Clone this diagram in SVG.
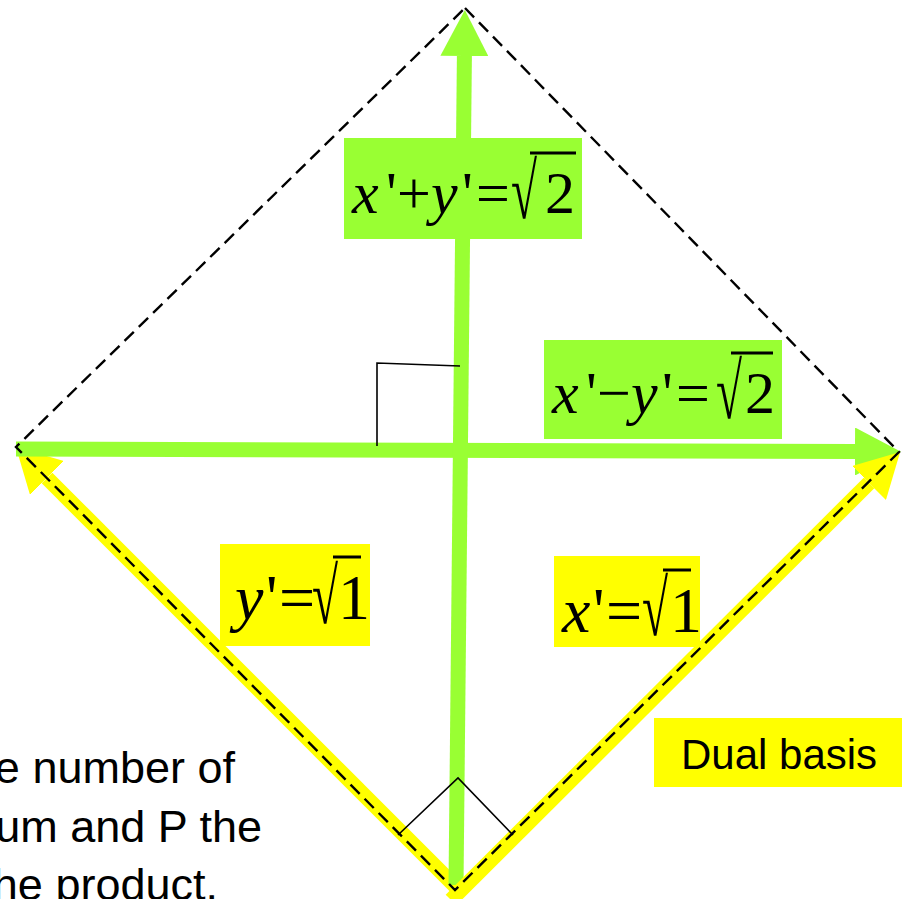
<svg xmlns="http://www.w3.org/2000/svg" width="902" height="899" viewBox="0 0 902 899">
<style>
.g{stroke:#99FF33;stroke-width:15;fill:none}
.y{stroke:#FFFF00;stroke-width:15;fill:none}
.dash{stroke:#000;stroke-width:2.4;fill:none;stroke-dasharray:13 7}
.ra{stroke:#000;stroke-width:1.6;fill:none}
.gb{fill:#99FF33}
.yb{fill:#FFFF00}
.m{font-family:"Liberation Serif","Times New Roman",serif;fill:#000}
.i{font-style:italic}
.r{font-family:"Liberation Serif","Times New Roman",serif;fill:#000;font-size:79px}
.s{font-family:"Liberation Sans",Arial,sans-serif;fill:#000}
.bar{stroke:#000;stroke-width:3}
</style>
<defs>
<marker id="ag" markerUnits="userSpaceOnUse" markerWidth="46" markerHeight="48" refX="0" refY="24" orient="auto" viewBox="0 0 46 48"><path d="M0,0 L46,24 L0,48 z" fill="#99FF33"/></marker>
<marker id="ay" markerUnits="userSpaceOnUse" markerWidth="44" markerHeight="48" refX="0" refY="24" orient="auto" viewBox="0 0 44 48"><path d="M0,0 L44,24 L0,48 z" fill="#FFFF00"/></marker>
</defs>
<g id="connectors">
<line class="y" x1="457" y1="888" x2="47" y2="478" marker-end="url(#ay)"/>
<line class="g" x1="16" y1="449" x2="855" y2="451.5" marker-end="url(#ag)"/>
<line class="g" x1="456" y1="885" x2="464.4" y2="56" marker-end="url(#ag)"/>
<line class="y" x1="451" y1="900" x2="869" y2="483" marker-end="url(#ay)"/>
<path class="dash" d="M465,8 L899,452 L455,890 L16,447 Z"/>
<polyline class="ra" points="377,446 377,363 460,366"/>
<polyline class="ra" points="398,835 458,778 513,835"/>
</g>
<g id="label-sum">
<rect class="gb" x="344" y="138" width="238" height="101"/>
<text class="m" y="213" font-size="60"><tspan x="352" class="i">x</tspan><tspan x="386">'</tspan><tspan x="397">+</tspan><tspan x="431" class="i">y</tspan><tspan x="462">'</tspan><tspan x="476">=</tspan><tspan x="545">2</tspan></text>
<text class="r" transform="translate(511,218) scale(0.6,1)">√</text>
<line class="bar" x1="530" y1="153" x2="576" y2="153"/>
</g>
<g id="label-diff">
<rect class="gb" x="544" y="340" width="238" height="99"/>
<text class="m" y="413" font-size="60"><tspan x="552" class="i">x</tspan><tspan x="586">'</tspan><tspan x="597">−</tspan><tspan x="631" class="i">y</tspan><tspan x="662">'</tspan><tspan x="676">=</tspan><tspan x="745">2</tspan></text>
<text class="r" transform="translate(716,418) scale(0.6,1)">√</text>
<line class="bar" x1="731" y1="353" x2="773" y2="353"/>
</g>
<g id="label-y">
<rect class="yb" x="220" y="544" width="150" height="102"/>
<text class="m" y="619" font-size="64"><tspan x="235" class="i">y</tspan><tspan x="266">'</tspan><tspan x="279">=</tspan><tspan x="338">1</tspan></text>
<text class="r" transform="translate(312,623) scale(0.6,1)">√</text>
<line class="bar" x1="333" y1="557" x2="361" y2="557"/>
</g>
<g id="label-x">
<rect class="yb" x="554" y="556" width="146" height="91"/>
<text class="m" y="632" font-size="64"><tspan x="562" class="i">x</tspan><tspan x="593">'</tspan><tspan x="606">=</tspan><tspan x="670">1</tspan></text>
<text class="r" transform="translate(642,635) scale(0.6,1)">√</text>
<line class="bar" x1="663" y1="570" x2="691" y2="570"/>
</g>
<g id="label-dual">
<rect class="yb" x="654" y="718" width="248" height="69"/>
<text class="s" x="681" y="769" font-size="42">Dual basis</text>
</g>
<g id="caption">
<text class="s" font-size="45" text-anchor="end"><tspan x="235" y="783">e number of</tspan><tspan x="262" y="842">um and P the</tspan><tspan x="218" y="900">he product.</tspan></text>
</g>
</svg>
